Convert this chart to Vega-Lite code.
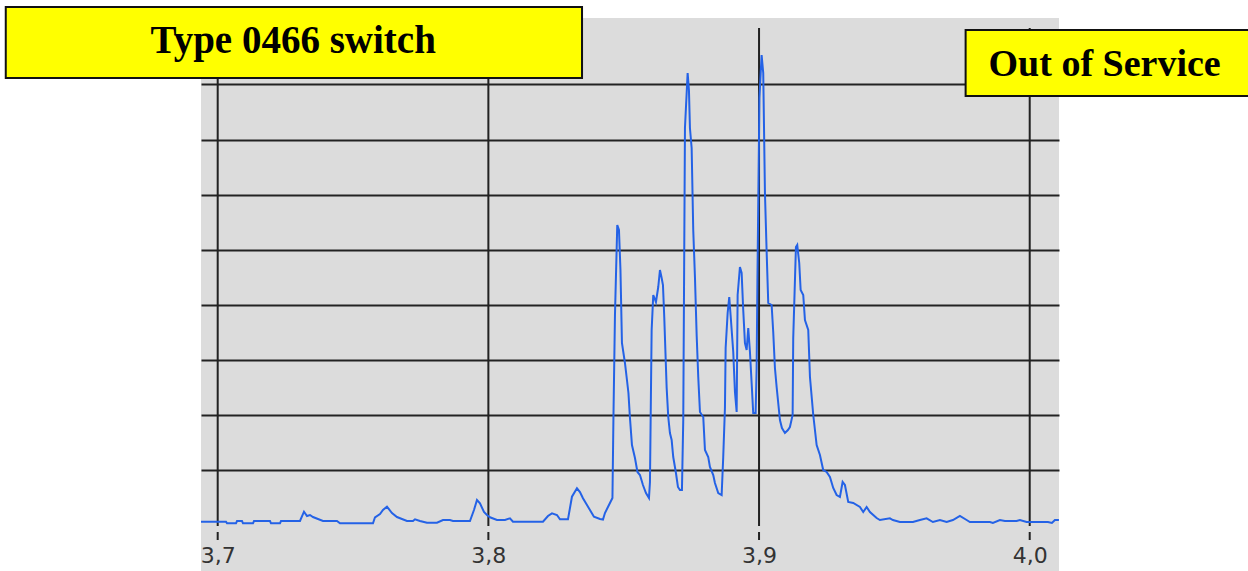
{
  "$schema": "https://vega.github.io/schema/vega-lite/v6.json",
  "width": 858,
  "height": 553,
  "autosize": {"type": "none"},
  "padding": {"left": 201, "top": 18, "right": 189, "bottom": 0},
  "background": "white",
  "config": {"view": {"fill": "#dcdcdc", "stroke": null}},
  "datasets": {
    "trace": [
      {"x": 3.69383, "y": 0.0635}, {"x": 3.70307, "y": 0.0635}, {"x": 3.70344, "y": 0.0345}, {"x": 3.70676, "y": 0.0345},
      {"x": 3.70713, "y": 0.0762}, {"x": 3.70898, "y": 0.0762}, {"x": 3.70935, "y": 0.0345}, {"x": 3.71304, "y": 0.0345},
      {"x": 3.71341, "y": 0.0762}, {"x": 3.71932, "y": 0.0762}, {"x": 3.71969, "y": 0.0345}, {"x": 3.72301, "y": 0.0345},
      {"x": 3.72338, "y": 0.0762}, {"x": 3.7304, "y": 0.0762}, {"x": 3.73188, "y": 0.245}, {"x": 3.73299, "y": 0.167},
      {"x": 3.7341, "y": 0.1851}, {"x": 3.7352, "y": 0.1488}, {"x": 3.73705, "y": 0.1125}, {"x": 3.7389, "y": 0.0762},
      {"x": 3.74407, "y": 0.0762}, {"x": 3.74518, "y": 0.0345}, {"x": 3.75737, "y": 0.0345}, {"x": 3.75811, "y": 0.1434},
      {"x": 3.75996, "y": 0.2033}, {"x": 3.76106, "y": 0.2759}, {"x": 3.76254, "y": 0.3358}, {"x": 3.76439, "y": 0.2214},
      {"x": 3.76624, "y": 0.1488}, {"x": 3.76808, "y": 0.1125}, {"x": 3.76993, "y": 0.0762}, {"x": 3.77215, "y": 0.0762},
      {"x": 3.77289, "y": 0.1071}, {"x": 3.77473, "y": 0.0762}, {"x": 3.77732, "y": 0.0454}, {"x": 3.78101, "y": 0.0454},
      {"x": 3.78323, "y": 0.0944}, {"x": 3.78581, "y": 0.0944}, {"x": 3.78692, "y": 0.0762}, {"x": 3.7932, "y": 0.0762},
      {"x": 3.79468, "y": 0.2759}, {"x": 3.79579, "y": 0.4574}, {"x": 3.7969, "y": 0.3975}, {"x": 3.79838, "y": 0.2396},
      {"x": 3.79948, "y": 0.1851}, {"x": 3.80059, "y": 0.1434}, {"x": 3.80318, "y": 0.0944}, {"x": 3.80613, "y": 0.0944},
      {"x": 3.80798, "y": 0.1252}, {"x": 3.80909, "y": 0.0635}, {"x": 3.82017, "y": 0.0635}, {"x": 3.82202, "y": 0.167},
      {"x": 3.8235, "y": 0.216}, {"x": 3.82534, "y": 0.1851}, {"x": 3.82645, "y": 0.1071}, {"x": 3.82941, "y": 0.1071},
      {"x": 3.83088, "y": 0.5172}, {"x": 3.83273, "y": 0.6697}, {"x": 3.83384, "y": 0.6025}, {"x": 3.83495, "y": 0.4882},
      {"x": 3.83643, "y": 0.3666}, {"x": 3.83753, "y": 0.2759}, {"x": 3.83901, "y": 0.1543}, {"x": 3.84123, "y": 0.1125},
      {"x": 3.84234, "y": 0.1034}, {"x": 3.84307, "y": 0.2214}, {"x": 3.84455, "y": 0.3666}, {"x": 3.84584, "y": 0.4936},
      {"x": 3.84621, "y": 1.9691}, {"x": 3.84677, "y": 3.8149}, {"x": 3.84762, "y": 5.4483}, {"x": 3.84825, "y": 5.3575},
      {"x": 3.8488, "y": 4.6316}, {"x": 3.84935, "y": 3.3067}, {"x": 3.85046, "y": 2.9437}, {"x": 3.8512, "y": 2.6352},
      {"x": 3.85175, "y": 2.3993}, {"x": 3.85231, "y": 1.9455}, {"x": 3.85305, "y": 1.4555}, {"x": 3.85416, "y": 1.2196},
      {"x": 3.85508, "y": 0.9655}, {"x": 3.856, "y": 0.9111}, {"x": 3.85711, "y": 0.7296}, {"x": 3.85822, "y": 0.5844},
      {"x": 3.85933, "y": 0.4936}, {"x": 3.8597, "y": 0.784}, {"x": 3.86032, "y": 3.5427}, {"x": 3.86092, "y": 4.1779},
      {"x": 3.86191, "y": 4.0508}, {"x": 3.86276, "y": 4.323}, {"x": 3.86339, "y": 4.6316}, {"x": 3.86402, "y": 4.4864},
      {"x": 3.8645, "y": 4.3593}, {"x": 3.86498, "y": 3.7786}, {"x": 3.86587, "y": 2.49}, {"x": 3.86646, "y": 1.9637},
      {"x": 3.86708, "y": 1.6733}, {"x": 3.86771, "y": 1.5463}, {"x": 3.8683, "y": 1.2377}, {"x": 3.8693, "y": 0.9474},
      {"x": 3.87004, "y": 0.6933}, {"x": 3.87078, "y": 0.6388}, {"x": 3.87152, "y": 0.6388}, {"x": 3.872, "y": 1.9093},
      {"x": 3.87263, "y": 7.2087}, {"x": 3.87362, "y": 8.2069}, {"x": 3.8741, "y": 7.8984}, {"x": 3.87447, "y": 7.2087},
      {"x": 3.8751, "y": 6.8457}, {"x": 3.87569, "y": 5.3575}, {"x": 3.87632, "y": 4.5045}, {"x": 3.87695, "y": 3.4519},
      {"x": 3.87754, "y": 2.6897}, {"x": 3.87817, "y": 2.0544}, {"x": 3.87939, "y": 1.9637}, {"x": 3.88002, "y": 1.3648},
      {"x": 3.88123, "y": 1.2377}, {"x": 3.88186, "y": 1.0563}, {"x": 3.88308, "y": 0.9111}, {"x": 3.88371, "y": 0.7659},
      {"x": 3.88493, "y": 0.5844}, {"x": 3.88618, "y": 0.5481}, {"x": 3.88677, "y": 1.2377}, {"x": 3.8874, "y": 2.1271},
      {"x": 3.88766, "y": 3.216}, {"x": 3.8884, "y": 3.8512}, {"x": 3.88899, "y": 4.1416}, {"x": 3.88962, "y": 3.7242},
      {"x": 3.89047, "y": 3.1434}, {"x": 3.8911, "y": 2.4174}, {"x": 3.89173, "y": 2.0544}, {"x": 3.89209, "y": 4.1779},
      {"x": 3.89294, "y": 4.686}, {"x": 3.89357, "y": 4.5771}, {"x": 3.89416, "y": 3.9056}, {"x": 3.89479, "y": 3.3067},
      {"x": 3.89542, "y": 3.1797}, {"x": 3.89601, "y": 3.5789}, {"x": 3.89664, "y": 3.1434}, {"x": 3.89726, "y": 2.5808},
      {"x": 3.89785, "y": 2.0363}, {"x": 3.89874, "y": 2.0363}, {"x": 3.89911, "y": 2.853}, {"x": 3.8994, "y": 4.4501},
      {"x": 3.90014, "y": 7.7532}, {"x": 3.90095, "y": 8.5336}, {"x": 3.90155, "y": 8.2069}, {"x": 3.90218, "y": 6.029},
      {"x": 3.90281, "y": 4.9583}, {"x": 3.9034, "y": 4.0327}, {"x": 3.90465, "y": 3.9964}, {"x": 3.90524, "y": 3.5064},
      {"x": 3.90587, "y": 2.853}, {"x": 3.9065, "y": 2.5082}, {"x": 3.90772, "y": 1.9093}, {"x": 3.90846, "y": 1.7641},
      {"x": 3.90957, "y": 1.6733}, {"x": 3.91067, "y": 1.7278}, {"x": 3.91141, "y": 1.7822}, {"x": 3.91241, "y": 2.0},
      {"x": 3.91263, "y": 3.3975}, {"x": 3.91363, "y": 5.049}, {"x": 3.91411, "y": 5.0853}, {"x": 3.91485, "y": 4.7586},
      {"x": 3.91537, "y": 4.2686}, {"x": 3.91633, "y": 4.1779}, {"x": 3.91696, "y": 3.7242}, {"x": 3.91818, "y": 3.5427},
      {"x": 3.91881, "y": 2.6897}, {"x": 3.92003, "y": 2.0}, {"x": 3.92128, "y": 1.4555}, {"x": 3.9225, "y": 1.274},
      {"x": 3.92371, "y": 1.0018}, {"x": 3.92497, "y": 0.9655}, {"x": 3.92619, "y": 0.8748}, {"x": 3.92741, "y": 0.6751},
      {"x": 3.92867, "y": 0.5481}, {"x": 3.92988, "y": 0.5118}, {"x": 3.93088, "y": 0.784}, {"x": 3.93173, "y": 0.7296},
      {"x": 3.93295, "y": 0.4211}, {"x": 3.9348, "y": 0.4029}, {"x": 3.93727, "y": 0.3303}, {"x": 3.93849, "y": 0.2396},
      {"x": 3.93975, "y": 0.3303}, {"x": 3.94097, "y": 0.2396}, {"x": 3.94344, "y": 0.1307}, {"x": 3.94466, "y": 0.0944},
      {"x": 3.94835, "y": 0.1252}, {"x": 3.94946, "y": 0.0944}, {"x": 3.95205, "y": 0.0581}, {"x": 3.95685, "y": 0.0581},
      {"x": 3.95944, "y": 0.0944}, {"x": 3.96191, "y": 0.1252}, {"x": 3.96424, "y": 0.0581}, {"x": 3.96683, "y": 0.0944},
      {"x": 3.9693, "y": 0.0581}, {"x": 3.97163, "y": 0.0944}, {"x": 3.97421, "y": 0.167}, {"x": 3.97669, "y": 0.0944},
      {"x": 3.97791, "y": 0.0581}, {"x": 3.9853, "y": 0.0581}, {"x": 3.9864, "y": 0.0399}, {"x": 3.98899, "y": 0.0944},
      {"x": 3.99084, "y": 0.0762}, {"x": 3.99516, "y": 0.0762}, {"x": 3.99638, "y": 0.0944}, {"x": 3.99885, "y": 0.0581},
      {"x": 4.00672, "y": 0.0581}, {"x": 4.0082, "y": 0.0399}, {"x": 4.00931, "y": 0.0944}, {"x": 4.01079, "y": 0.0944}
    ],
    "gridX": [{"x": 3.7}, {"x": 3.8}, {"x": 3.9}, {"x": 4.0}],
    "one": [{}]
  },
  "layer": [
    {
      "data": {"name": "gridX"},
      "mark": {"type": "rule", "color": "#222222", "strokeWidth": 2, "strokeDash": [498, 6, 9, 1000]},
      "encoding": {
        "x": {
          "field": "x", "type": "quantitative",
          "scale": {"domain": [3.69383, 4.01082], "nice": false, "zero": false},
          "axis": {
            "values": [3.7, 3.8, 3.9, 4.0],
            "labelExpr": "replace(format(datum.value, '.1f'), '.', ',')",
            "grid": false, "domain": false, "ticks": false, "title": null,
            "offset": -46,
            "labelFont": "DejaVu Sans", "labelFontSize": 22, "labelColor": "#333333",
            "labelPadding": 20, "labelFlush": false, "labelOverlap": false
          }
        },
        "y": {
          "datum": 9.0236, "type": "quantitative",
          "scale": {"domain": [-0.8312, 9.2051], "nice": false, "zero": false},
          "axis": {
            "values": [1, 2, 3, 4, 5, 6, 7, 8],
            "grid": true, "gridColor": "#222222", "gridWidth": 2, "gridOpacity": 1,
            "labels": false, "ticks": false, "domain": false, "title": null
          }
        },
        "y2": {"datum": -0.2686}
      }
    },
    {
      "data": {"name": "trace"},
      "mark": {"type": "line", "color": "#2462e6", "strokeWidth": 2, "interpolate": "linear"},
      "encoding": {
        "x": {"field": "x", "type": "quantitative"},
        "y": {"field": "y", "type": "quantitative"}
      }
    },
    {
      "data": {"name": "one"},
      "mark": {"type": "rect", "fill": "#ffff00", "stroke": "#111111", "strokeWidth": 2},
      "encoding": {
        "x": {"datum": 3.6217, "type": "quantitative"},
        "x2": {"datum": 3.8346},
        "y": {"datum": 9.405, "type": "quantitative"},
        "y2": {"datum": 8.115}
      }
    },
    {
      "data": {"name": "one"},
      "mark": {"type": "text", "text": "Type 0466 switch", "font": "Liberation Serif", "fontWeight": "bold", "fontSize": 39, "align": "center", "baseline": "alphabetic", "color": "#000000"},
      "encoding": {
        "x": {"datum": 3.72789, "type": "quantitative"},
        "y": {"datum": 8.57, "type": "quantitative"}
      }
    },
    {
      "data": {"name": "one"},
      "mark": {"type": "rect", "fill": "#ffff00", "stroke": "#111111", "strokeWidth": 2},
      "encoding": {
        "x": {"datum": 3.97632, "type": "quantitative"},
        "x2": {"datum": 4.08208},
        "y": {"datum": 8.987, "type": "quantitative"},
        "y2": {"datum": 7.789}
      }
    },
    {
      "data": {"name": "one"},
      "mark": {"type": "text", "text": "Out of Service", "font": "Liberation Serif", "fontWeight": "bold", "fontSize": 38, "align": "center", "baseline": "alphabetic", "color": "#000000"},
      "encoding": {
        "x": {"datum": 4.02767, "type": "quantitative"},
        "y": {"datum": 8.152, "type": "quantitative"}
      }
    }
  ]
}
